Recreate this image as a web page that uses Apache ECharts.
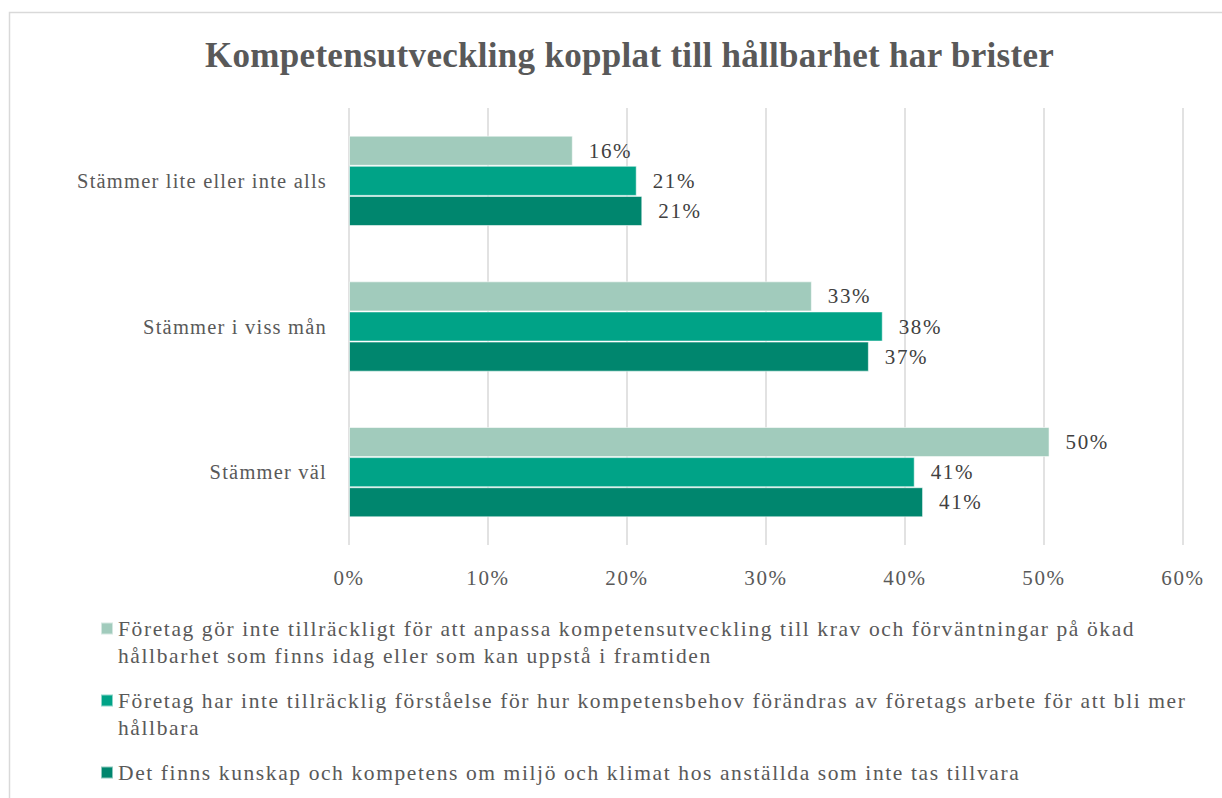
<!DOCTYPE html>
<html>
<head>
<meta charset="utf-8">
<script src="https://cdn.jsdelivr.net/npm/echarts@6/dist/echarts.min.js"></script>
<style>
  html, body { margin: 0; padding: 0; background: #fff; }
  #chart { width: 1222px; height: 798px; }
  /* airy serif setting for the chart text, tighter for the heading and category names */
  #chart svg text { letter-spacing: 1.6px; }
  #chart svg text[style*="bold"] { letter-spacing: 0.3px; }
  #chart svg text[style*="20.5px"] { letter-spacing: 1.2px; }
</style>
</head>
<body>
<div id="chart"></div>
<script>
// Survey answers, shares in percent
const categories = ['Stämmer lite eller inte alls', 'Stämmer i viss mån', 'Stämmer väl'];
const seriesNames = [
  'Företag gör inte tillräckligt för att anpassa kompetensutveckling till krav och förväntningar på ökad hållbarhet som finns idag eller som kan uppstå i framtiden',
  'Företag har inte tillräcklig förståelse för hur kompetensbehov förändras av företags arbete för att bli mer hållbara',
  'Det finns kunskap och kompetens om miljö och klimat hos anställda som inte tas tillvara'
];
// Legend text broken into lines
const legendLines = [
  ['Företag gör inte tillräckligt för att anpassa kompetensutveckling till krav och förväntningar på ökad', 'hållbarhet som finns idag eller som kan uppstå i framtiden'],
  ['Företag har inte tillräcklig förståelse för hur kompetensbehov förändras av företags arbete för att bli mer', 'hållbara'],
  ['Det finns kunskap och kompetens om miljö och klimat hos anställda som inte tas tillvara', '']
];
const valuesAnpassa = [16.1, 33.3, 50.4];
const valuesForstaelse = [20.7, 38.4, 40.7];
const valuesKunskap = [21.1, 37.4, 41.3];
const xTicks = [0, 10, 20, 30, 40, 50, 60];

const colors = ['#A1CBBC', '#00A387', '#00866E'];
const font = '"Liberation Serif", "DejaVu Serif", serif';

const chart = echarts.init(document.getElementById('chart'), null, { renderer: 'svg' });
const seriesValues = [valuesAnpassa, valuesForstaelse, valuesKunskap];

chart.setOption({
  animation: false,
  textStyle: { fontFamily: font },
  title: {
    text: 'Kompetensutveckling kopplat till hållbarhet har brister',
    left: 200,
    top: 33,
    textStyle: { fontFamily: font, fontSize: 35, fontWeight: 'bold', color: '#595959' }
  },
  graphic: [{
    type: 'rect',
    shape: { x: 9.5, y: 12.5, width: 1300, height: 900 },
    style: { fill: 'none', stroke: '#D9D9D9', lineWidth: 1.5 },
    silent: true,
    z: -1
  }],
  grid: { left: 349, right: 39, top: 108, bottom: 253, containLabel: false },
  xAxis: {
    type: 'value',
    min: xTicks[0],
    max: xTicks[xTicks.length - 1],
    interval: 10,
    axisLine: { show: false },
    axisTick: { show: false },
    splitLine: { lineStyle: { color: '#D9D9D9', width: 1.5 } },
    axisLabel: {
      formatter: v => v + '%',
      fontFamily: font, fontSize: 21, color: '#595959', margin: 22
    }
  },
  yAxis: {
    type: 'category',
    data: categories,
    inverse: true,
    axisLine: { show: false },
    axisTick: { show: false },
    axisLabel: { fontFamily: font, fontSize: 20.5, color: '#595959', margin: 22 }
  },
  legend: {
    orient: 'vertical',
    left: 100,
    top: 588,
    height: 400,
    padding: 0,
    itemGap: -9,
    icon: 'rect',
    itemWidth: 12,
    itemHeight: 12,
    selectedMode: false,
    data: seriesNames,
    formatter: name => {
      const lines = legendLines[seriesNames.indexOf(name)];
      return '\n' + lines[0] + '\n' + lines[1];
    },
    textStyle: { fontFamily: font, fontSize: 21.5, color: '#595959', lineHeight: 27 }
  },
  series: seriesNames.map((name, i) => ({
    name,
    type: 'bar',
    data: seriesValues[i],
    barGap: '0%',
    barCategoryGap: '38%',
    itemStyle: { color: colors[i], borderColor: 'rgba(255,255,255,0.55)', borderWidth: 1 },
    label: {
      show: true,
      position: 'right',
      distance: 16,
      formatter: p => Math.round(p.value) + '%',
      fontFamily: font, fontSize: 21, color: '#404040'
    }
  }))
});
</script>
</body>
</html>
